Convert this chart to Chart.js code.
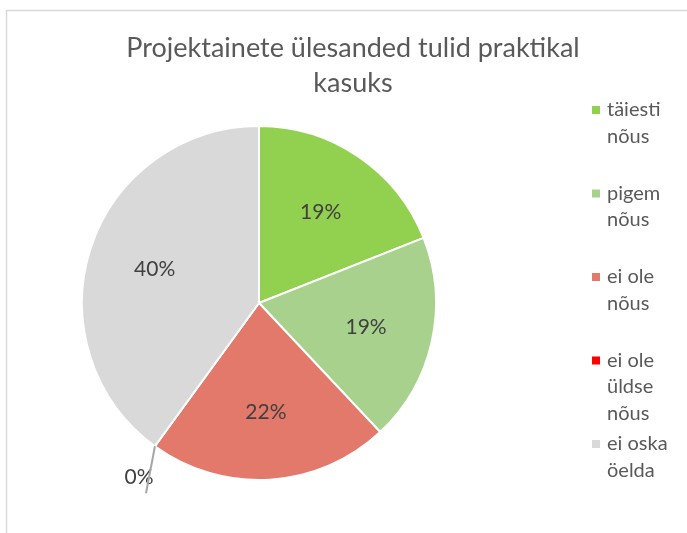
<!DOCTYPE html>
<html>
<head>
<meta charset="utf-8">
<script src="https://cdn.jsdelivr.net/npm/chart.js@4.4.1/dist/chart.umd.min.js"></script>
<style>
  html, body { margin: 0; padding: 0; background: #fff; }
</style>
</head>
<body>
<canvas id="pie-chart" width="687" height="533"></canvas>
<script>
// Chart data
const titleLines = ['Projektainete ülesanded tulid praktikal', 'kasuks'];
const categories = ['täiesti nõus', 'pigem nõus', 'ei ole nõus', 'ei ole üldse nõus', 'ei oska öelda'];
const shares = [19, 19, 22, 0, 40];
const sliceColors = ['#92D050', '#A9D18E', '#E2796A', '#FF0000', '#D9D9D9'];

const FONT = 'Lato, "Open Sans", sans-serif';

// split a legend label into lines that fit a narrow column
function wrapWords(ctx, text, maxWidth) {
    const words = text.split(' ');
    const lines = [];
    let line = '';
    words.forEach(w => {
        const test = line ? line + ' ' + w : w;
        if (line && ctx.measureText(test).width > maxWidth) {
            lines.push(line);
            line = w;
        } else {
            line = test;
        }
    });
    if (line) lines.push(line);
    return lines;
}

const decorPlugin = {
    id: 'decor',
    beforeDraw(chart) {
        const ctx = chart.ctx;
        ctx.save();
        // frame (left + top edge)
        ctx.strokeStyle = '#D9D9D9';
        ctx.lineWidth = 1.5;
        ctx.beginPath();
        ctx.moveTo(6.5, chart.height);
        ctx.lineTo(6.5, 10.5);
        ctx.lineTo(chart.width, 10.5);
        ctx.stroke();
        // title
        ctx.fillStyle = '#595959';
        ctx.font = '27px ' + FONT;
        ctx.textAlign = 'center';
        ctx.textBaseline = 'middle';
        titleLines.forEach((line, i) => ctx.fillText(line, 353, 48 + i * 35));
        ctx.restore();
    },
    afterDatasetsDraw(chart) {
        const ctx = chart.ctx;
        const meta = chart.getDatasetMeta(0);
        const data = chart.data.datasets[0].data;
        const total = data.reduce((a, b) => a + b, 0);
        ctx.save();
        ctx.font = '21px ' + FONT;
        ctx.fillStyle = '#404040';
        ctx.textAlign = 'center';
        ctx.textBaseline = 'middle';
        meta.data.forEach((arc, i) => {
            const pct = Math.round(data[i] / total * 100) + '%';
            const p = arc.getProps(['x', 'y', 'startAngle', 'endAngle', 'outerRadius'], true);
            if (data[i] === 0) {
                // empty slice: label outside with a leader line
                const px = p.x + Math.cos(p.startAngle) * p.outerRadius;
                const py = p.y + Math.sin(p.startAngle) * p.outerRadius;
                ctx.fillText(pct, px - 16, py + 31);
                ctx.strokeStyle = '#A6A6A6';
                ctx.lineWidth = 2;
                ctx.beginPath();
                ctx.moveTo(px, py);
                ctx.lineTo(px - 9, py + 47);
                ctx.stroke();
            } else {
                const mid = (p.startAngle + p.endAngle) / 2;
                const r = p.outerRadius * 0.62;
                ctx.fillText(pct, p.x + Math.cos(mid) * r, p.y + Math.sin(mid) * r);
            }
        });

        // legend on the right
        ctx.font = '20px ' + FONT;
        ctx.textAlign = 'left';
        chart.data.labels.forEach((label, i) => {
            const y0 = 110 + i * 83.5;
            ctx.fillStyle = sliceColors[i];
            ctx.fillRect(592, y0 - 4, 8, 8);
            ctx.fillStyle = '#595959';
            wrapWords(ctx, label, 74).forEach((line, j) => {
                ctx.fillText(line, 607, y0 + j * 26.5);
            });
        });
        ctx.restore();
    }
};

new Chart(document.getElementById('pie-chart'), {
    type: 'pie',
    data: {
        labels: categories,
        datasets: [{
            data: shares,
            backgroundColor: sliceColors,
            borderColor: '#FFFFFF',
            borderWidth: 2
        }]
    },
    options: {
        responsive: false,
        animation: false,
        devicePixelRatio: 1,
        layout: { padding: { left: 81, right: 250, top: 125, bottom: 52 } },
        plugins: {
            legend: { display: false },
            title: { display: false },
            tooltip: { enabled: false }
        }
    },
    plugins: [decorPlugin]
});
</script>
</body>
</html>
